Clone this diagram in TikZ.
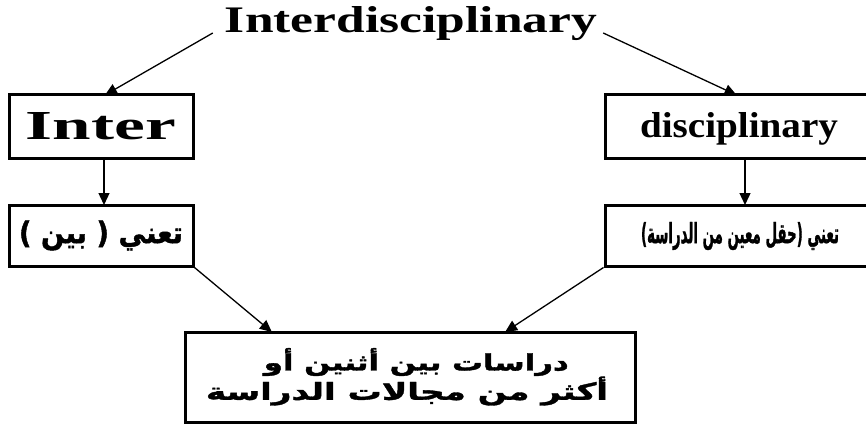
\documentclass[tikz,border=0pt]{standalone}
\usepackage{fontspec}
\usepackage{graphicx}
\setmainfont{Liberation Serif}
\newfontfamily\arabicfont[Script=Arabic,BoldFont={DejaVu Sans Bold},BoldFeatures={FakeBold=1.5}]{DejaVu Sans}
\TeXXeTstate=1
\usetikzlibrary{arrows.meta,calc}
\begin{document}
\begin{tikzpicture}[x=1pt,y=-1pt,
  boxnode/.style={draw=black,line width=3pt,inner sep=0pt,anchor=center},
  txt/.style={inner sep=0pt,anchor=center},
  conn/.style={line width=1.3pt,-{Triangle[length=12pt,width=11pt]}}]
\useasboundingbox (0,0) rectangle (866,425);
\clip (0,0) rectangle (866,425);
% title
\node[inner ysep=0pt,inner xsep=12pt,anchor=base] (title) at (411,33)
  {\resizebox{372pt}{26pt}{\bfseries Interdisciplinary}};
% top row
\node[boxnode,minimum width=184pt,minimum height=63pt] (inter) at (101,126.5)
  {\resizebox{150pt}{27pt}{\bfseries Inter}};
\node[boxnode,minimum width=263pt,minimum height=63pt] (disc) at (736.5,126.5) {};
\node[txt,anchor=base] (disctxt) at (739,137)
  {\resizebox{198pt}{25pt}{\bfseries disciplinary}};
% second row
\node[boxnode,minimum width=184pt,minimum height=61pt] (meanA) at (101,235.5)
  {\resizebox*{164pt}{30pt}{\arabicfont\bfseries\beginR تعني ( بين )\endR}};
\node[boxnode,minimum width=263pt,minimum height=61pt] (meanB) at (736.5,235.5) {};
\node[txt] (meanBtxt) at (740,236)
  {\resizebox*{198pt}{28pt}{\arabicfont\bfseries\beginR تعني (حقل معين من الدراسة)\endR}};
% bottom
\node[boxnode,minimum width=450pt,minimum height=90pt] (result) at (410,377) {};
\node[txt,anchor=east] (resA) at (569,362)
  {\resizebox*{305pt}{28pt}{\arabicfont\bfseries\beginR دراسات بين أثنين أو\endR}};
\node[txt] (resB) at (407,391)
  {\resizebox*{402pt}{29pt}{\arabicfont\bfseries\beginR أكثر من مجالات الدراسة\endR}};
% connectors
\draw[conn] (title.base west) -- ([xshift=4pt,yshift=-1.5pt]inter.north);
\draw[conn] ([xshift=-6pt]title.base east) -- ([yshift=-1.5pt]disc.north);
\draw[conn] ([xshift=3pt]inter.south) -- ([xshift=3pt,yshift=-1.5pt]meanA.north);
\draw[conn] ([xshift=8.5pt]disc.south) -- ([xshift=8.5pt,yshift=-1.5pt]meanB.north);
\draw[conn] (meanA.south east) -- ([yshift=-1.5pt]$(result.north west)!0.195!(result.north east)$);
\draw[conn] (meanB.south west) -- ([yshift=-1.5pt]$(result.north west)!0.71!(result.north east)$);
\end{tikzpicture}
\end{document}
